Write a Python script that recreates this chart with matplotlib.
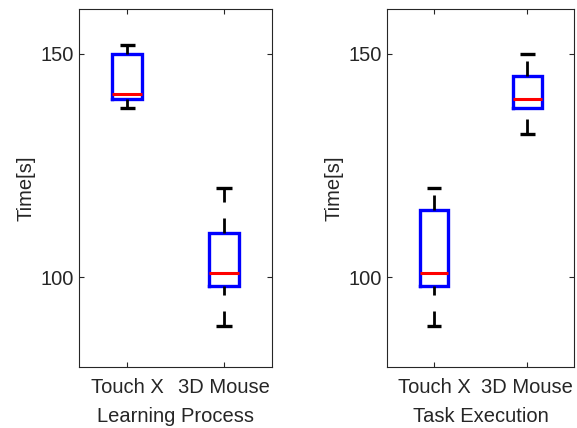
import matplotlib
matplotlib.use("Agg")
import matplotlib.pyplot as plt

plt.rcParams['font.family'] = ['Liberation Sans', 'DejaVu Sans']
plt.rcParams['lines.scale_dashes'] = False

groups = ['Touch X', '3D Mouse']

# five-number summaries: lower whisker, q1, median, q3, upper whisker
learn_lo = [138, 89]
learn_q1 = [140, 98]
learn_med = [141, 101]
learn_q3 = [150, 110]
learn_hi = [152, 120]

task_lo = [89, 132]
task_q1 = [98, 138]
task_med = [101, 140]
task_q3 = [115, 145]
task_hi = [120, 150]

txt = '#262626'
fs = 14.5


def make_stats(lo, q1, med, q3, hi):
    return [dict(whislo=a, q1=b, med=c, q3=d, whishi=e, label=g, fliers=[])
            for a, b, c, d, e, g in zip(lo, q1, med, q3, hi, groups)]


def draw_box(ax, stats, xlabel):
    bp = ax.bxp(stats, positions=[1, 2], widths=0.31, capwidths=0.16,
                boxprops=dict(color='blue', linewidth=2.4, solid_joinstyle='miter'),
                medianprops=dict(color='red', linewidth=2.2, solid_capstyle='butt'),
                whiskerprops=dict(color='black', linewidth=2.0,
                                  linestyle=(0, (10.8, 11.5))),
                capprops=dict(color='black', linewidth=2.4, solid_capstyle='butt'),
                showfliers=False)
    # lower whiskers are drawn from the cap towards the box
    for w in bp['whiskers'][0::2]:
        w.set_ydata(w.get_ydata()[::-1])
    for m in bp['medians']:
        m.set_zorder(5)
    ax.set_xlim(0.5, 2.5)
    ax.set_ylim(80, 160)
    ax.set_yticks([100, 150])
    ax.set_xticks([1, 2])
    ax.set_xticklabels(groups)
    ax.tick_params(direction='in', length=3.4, width=0.8, top=True, right=True,
                   labelsize=fs, colors=txt)
    ax.tick_params(axis='x', pad=8)
    ax.tick_params(axis='y', pad=4)
    for s in ax.spines.values():
        s.set_color(txt)
        s.set_linewidth(0.8)
    ax.set_ylabel('Time[s]', fontsize=fs, color=txt, labelpad=3.5)
    ax.set_xlabel(xlabel, fontsize=fs, color=txt, labelpad=7.5)


W, H = 577, 428
fig = plt.figure(figsize=(W / 100, H / 100), dpi=100)
ax1 = fig.add_axes([79 / W, 1 - 366.7 / H, 193.3 / W, 357.4 / H])
ax2 = fig.add_axes([387.3 / W, 1 - 366.7 / H, 186.7 / W, 357.4 / H])

draw_box(ax1, make_stats(learn_lo, learn_q1, learn_med, learn_q3, learn_hi),
         'Learning Process')
draw_box(ax2, make_stats(task_lo, task_q1, task_med, task_q3, task_hi),
         'Task Execution')

fig.savefig('out.png', dpi=100)
